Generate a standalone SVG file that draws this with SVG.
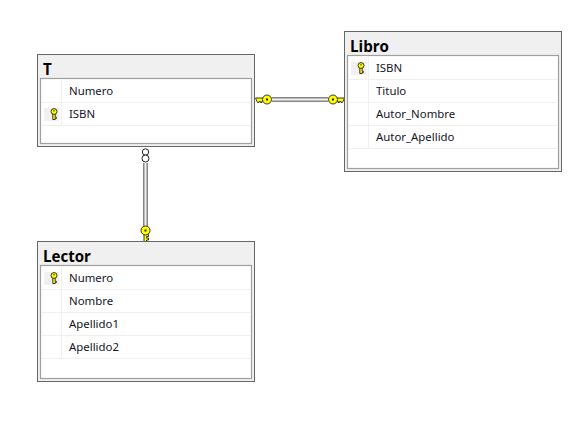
<svg xmlns="http://www.w3.org/2000/svg" width="580" height="424" viewBox="0 0 580 424">
<style>
.outer{fill:#f0f0f0;stroke:#666;stroke-width:1}
.inner{fill:#fff;stroke:#a0a0a0;stroke-width:1.2}
.row{stroke:#f0f0f0;stroke-width:1;fill:none}
.title{font:bold 15.100px "Open Sans","Noto Sans","Liberation Sans",sans-serif;fill:#000}
.col{font:11.400px "Noto Sans","Open Sans","Liberation Sans",sans-serif;fill:#14141f}
.kb{fill:#f0f0f0}
.pipe{fill:none;stroke:#858585;stroke-width:5}
.pipeh{fill:none;stroke:#f0f0f0;stroke-width:2}
.k{fill:#ffff00;stroke:#222;stroke-width:0.9}
.o{fill:#fff;stroke:#222;stroke-width:1}
</style>
<defs>
<g id="key"><path class="k" d="M-1.200-0.500V5.500H1.200V4.500H2.400V3.300H1.200V-0.500Z"/><ellipse cx="0" cy="-2.500" rx="3" ry="2.900" class="k"/><rect x="-0.600" y="-3.800" width="1.200" height="1.200" fill="#222"/></g>
</defs>
<rect width="580" height="424" fill="#fff"/>
<g id="connectors">
<path class="pipe" d="M272 99.500H328"/><path class="pipeh" d="M272 99.500H328"/>
<path class="pipe" d="M145.500 163V227"/><path class="pipeh" d="M145.500 163V227"/>
<g id="end-t-libro-left"><path class="k" d="M255.500 98H264V101H262V102.500H260.500V101.500H259V102.500H257.500Z"/><circle class="k" cx="267" cy="99.500" r="4.500"/><rect x="266" y="98.500" width="2" height="2" fill="#222"/></g>
<g id="end-t-libro-right"><path class="k" d="M344.500 98H336V101H338V102.500H339.500V101.500H341V102.500H342.500Z"/><circle class="k" cx="333" cy="99.500" r="4.500"/><rect x="332" y="98.500" width="2" height="2" fill="#222"/></g>
<g id="end-t-lector-top"><circle class="o" cx="145.500" cy="152" r="3.200"/><circle class="o" cx="145.500" cy="158.500" r="3.500"/></g>
<g id="end-t-lector-bottom"><path class="k" d="M144 232V241.500H146.500V240H148.500V238H146.500V236.500H148.500V234.500H147V232Z"/><circle class="k" cx="145.500" cy="230.500" r="4.500"/><rect x="144.500" y="229.500" width="2" height="2" fill="#222"/></g>
</g>
<g id="node-t">
<rect class="outer" x="37.500" y="54.500" width="217" height="92"/>
<rect class="inner" x="40.500" y="78.500" width="211" height="65"/>
<path class="row" d="M41 102.500H251M41 125.500H251M61.500 79V125"/>
<rect class="kb" x="44" y="108" width="15" height="13"/>
<use href="#key" x="54" y="114"/>
<text class="title" x="43" y="74.500">T</text>
<text class="col" x="69" y="95">Numero</text>
<text class="col" x="69" y="118">ISBN</text>
</g>
<g id="node-libro">
<rect class="outer" x="344.500" y="31.500" width="217" height="140"/>
<rect class="inner" x="347.500" y="55.500" width="211" height="113"/>
<path class="row" d="M348 79.500H558M348 102.500H558M348 125.500H558M348 148.500H558M368.500 56V148"/>
<rect class="kb" x="351" y="62" width="15" height="13"/>
<use href="#key" x="361" y="68"/>
<text class="title" x="350" y="51.500">Libro</text>
<text class="col" x="376" y="72">ISBN</text>
<text class="col" x="376" y="95">Titulo</text>
<text class="col" x="376" y="118">Autor_Nombre</text>
<text class="col" x="376" y="141">Autor_Apellido</text>
</g>
<g id="node-lector">
<rect class="outer" x="37.500" y="241.500" width="217" height="140"/>
<rect class="inner" x="40.500" y="265.500" width="211" height="113"/>
<path class="row" d="M41 289.500H251M41 312.500H251M41 335.500H251M41 358.500H251M61.500 266V358"/>
<rect class="kb" x="44" y="272" width="15" height="13"/>
<use href="#key" x="54" y="278"/>
<text class="title" x="43" y="261.500">Lector</text>
<text class="col" x="69" y="282">Numero</text>
<text class="col" x="69" y="305">Nombre</text>
<text class="col" x="69" y="328">Apellido1</text>
<text class="col" x="69" y="351">Apellido2</text>
</g>
</svg>
